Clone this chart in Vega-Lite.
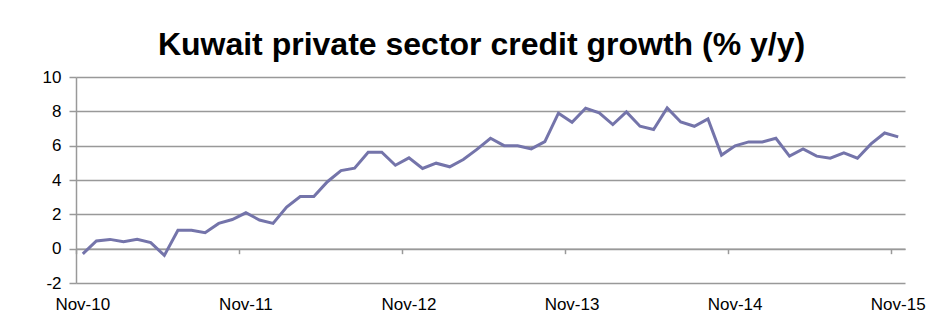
{
  "$schema": "https://vega.github.io/schema/vega-lite/v6.json",
  "autosize": "none",
  "width": 829,
  "height": 206,
  "padding": {"left": 76, "top": 77, "right": 34, "bottom": 53},
  "background": "white",
  "title": {
    "text": "Kuwait private sector credit growth (% y/y)",
    "font": "Liberation Sans",
    "fontSize": 32,
    "fontWeight": "bold",
    "color": "black",
    "anchor": "middle",
    "offset": 6,
    "dx": -9
  },
  "data": {
    "values": [
      {"month": "Nov-10", "growth": -0.3},
      {"month": "Dec-10", "growth": 0.45},
      {"month": "Jan-11", "growth": 0.54},
      {"month": "Feb-11", "growth": 0.4},
      {"month": "Mar-11", "growth": 0.54},
      {"month": "Apr-11", "growth": 0.35},
      {"month": "May-11", "growth": -0.39},
      {"month": "Jun-11", "growth": 1.07},
      {"month": "Jul-11", "growth": 1.07},
      {"month": "Aug-11", "growth": 0.93},
      {"month": "Sep-11", "growth": 1.47},
      {"month": "Oct-11", "growth": 1.7},
      {"month": "Nov-11", "growth": 2.09},
      {"month": "Dec-11", "growth": 1.67},
      {"month": "Jan-12", "growth": 1.47},
      {"month": "Feb-12", "growth": 2.42},
      {"month": "Mar-12", "growth": 3.04},
      {"month": "Apr-12", "growth": 3.04},
      {"month": "May-12", "growth": 3.9},
      {"month": "Jun-12", "growth": 4.55},
      {"month": "Jul-12", "growth": 4.69},
      {"month": "Aug-12", "growth": 5.62},
      {"month": "Sep-12", "growth": 5.62},
      {"month": "Oct-12", "growth": 4.86},
      {"month": "Nov-12", "growth": 5.29},
      {"month": "Dec-12", "growth": 4.67},
      {"month": "Jan-13", "growth": 4.98},
      {"month": "Feb-13", "growth": 4.77},
      {"month": "Mar-13", "growth": 5.19},
      {"month": "Apr-13", "growth": 5.78},
      {"month": "May-13", "growth": 6.43},
      {"month": "Jun-13", "growth": 6.0},
      {"month": "Jul-13", "growth": 6.0},
      {"month": "Aug-13", "growth": 5.81},
      {"month": "Sep-13", "growth": 6.24},
      {"month": "Oct-13", "growth": 7.89},
      {"month": "Nov-13", "growth": 7.36},
      {"month": "Dec-13", "growth": 8.18},
      {"month": "Jan-14", "growth": 7.91},
      {"month": "Feb-14", "growth": 7.23},
      {"month": "Mar-14", "growth": 7.97},
      {"month": "Apr-14", "growth": 7.13},
      {"month": "May-14", "growth": 6.94},
      {"month": "Jun-14", "growth": 8.2},
      {"month": "Jul-14", "growth": 7.38},
      {"month": "Aug-14", "growth": 7.13},
      {"month": "Sep-14", "growth": 7.56},
      {"month": "Oct-14", "growth": 5.45},
      {"month": "Nov-14", "growth": 5.99},
      {"month": "Dec-14", "growth": 6.22},
      {"month": "Jan-15", "growth": 6.22},
      {"month": "Feb-15", "growth": 6.43},
      {"month": "Mar-15", "growth": 5.39},
      {"month": "Apr-15", "growth": 5.81},
      {"month": "May-15", "growth": 5.39},
      {"month": "Jun-15", "growth": 5.27},
      {"month": "Jul-15", "growth": 5.58},
      {"month": "Aug-15", "growth": 5.27},
      {"month": "Sep-15", "growth": 6.1},
      {"month": "Oct-15", "growth": 6.74},
      {"month": "Nov-15", "growth": 6.51}
    ]
  },
  "mark": {"type": "line", "color": "#7474aa", "strokeWidth": 3, "strokeJoin": "miter"},
  "encoding": {
    "x": {
      "field": "month",
      "type": "ordinal",
      "sort": null,
      "scale": {"type": "band", "paddingInner": 0, "paddingOuter": 0},
      "axis": {
        "title": null,
        "orient": "bottom",
        "offset": -34.33,
        "values": ["Nov-10", "Nov-11", "Nov-12", "Nov-13", "Nov-14", "Nov-15"],
        "bandPosition": 0,
        "labelAngle": 0,
        "labelAlign": "center",
        "labelPadding": 43,
        "tickSize": 5,
        "tickColor": "#999999",
        "tickWidth": 1.5,
        "domainColor": "#999999",
        "domainWidth": 1.5,
        "grid": false,
        "labelFont": "Liberation Sans",
        "labelFontSize": 17,
        "labelColor": "black"
      }
    },
    "y": {
      "field": "growth",
      "type": "quantitative",
      "scale": {"domain": [-2, 10], "nice": false, "zero": false},
      "axis": {
        "title": null,
        "values": [-2, 0, 2, 4, 6, 8, 10],
        "labelExpr": "datum.value + ''",
        "grid": true,
        "gridColor": "#999999",
        "gridWidth": 1.5,
        "domainColor": "#999999",
        "domainWidth": 1.5,
        "tickColor": "#999999",
        "tickWidth": 1.5,
        "tickSize": 7,
        "labelPadding": 8,
        "labelFont": "Liberation Sans",
        "labelFontSize": 17,
        "labelColor": "black"
      }
    }
  },
  "config": {"view": {"stroke": null}}
}
